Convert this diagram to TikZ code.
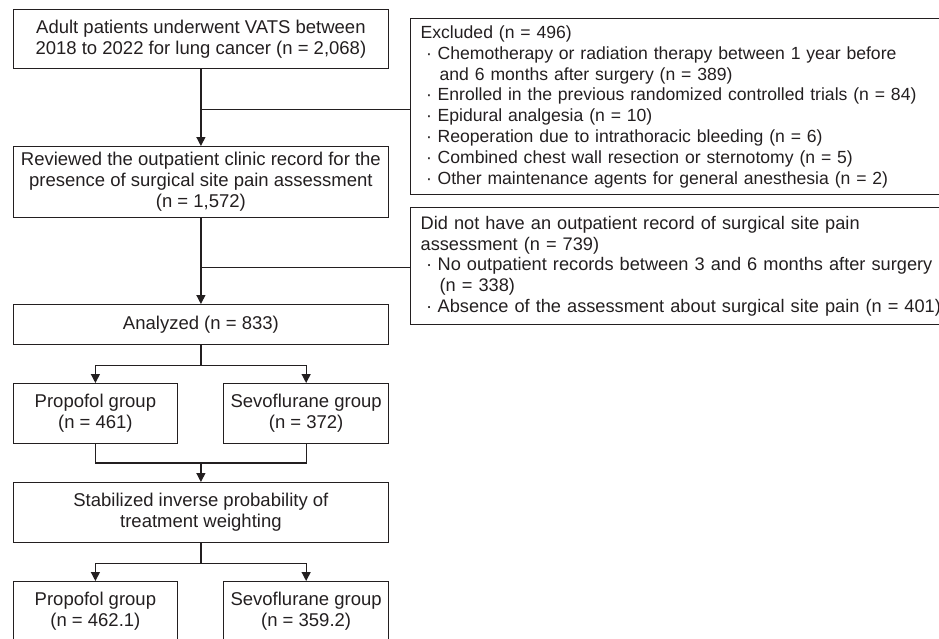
\documentclass[tikz,border=0pt]{standalone}
\usepackage{fontspec}
\setmainfont{Liberation Sans}
\usetikzlibrary{arrows.meta}
\definecolor{ink}{RGB}{35,31,32}
\newcommand{\bul}{\makebox[17pt][c]{·}}
\newcommand{\ind}{\hspace*{19pt}}
\begin{document}
\begin{tikzpicture}[x=1pt,y=-1pt,
  box/.style={draw=ink, line width=1.3pt, text=ink, anchor=north west, inner sep=0pt, align=center, font=\fontsize{18.5}{21}\selectfont},
  lbox/.style={box, align=left, text width=560pt, inner xsep=10pt, inner ysep=0pt, font=\fontsize{17.6}{20.8}\selectfont},
  lboxb/.style={lbox, font=\fontsize{18.2}{20.6}\selectfont},
  arr/.style={draw=ink, line width=1.3pt, -{Triangle[length=9pt,width=9pt]}},
  ln/.style={draw=ink, line width=1.3pt}]
\useasboundingbox (0,0) rectangle (939,638);
\clip (0,0) rectangle (939,638);

\node[box, minimum width=375.5pt, minimum height=59pt] (b1) at (12.5,9)
  {Adult patients underwent VATS between\\2018 to 2022 for lung cancer (n = 2,068)};
\node[box, minimum width=375.5pt, minimum height=71pt] (b2) at (12.5,146)
  {Reviewed the outpatient clinic record for the\\presence of surgical site pain assessment\\(n = 1,572)};
\node[box, minimum width=375.5pt, minimum height=40pt] (an) at (12.5,304)
  {Analyzed (n = 833)};
\node[box, minimum width=164.5pt, minimum height=60pt] (p1) at (12.5,383)
  {Propofol group\\(n = 461)};
\node[box, minimum width=165pt, minimum height=60pt] (s1) at (223,383)
  {Sevoflurane group\\(n = 372)};
\node[box, minimum width=375.5pt, minimum height=60pt] (st) at (12.5,482)
  {Stabilized inverse probability of\\treatment weighting};
\node[box, minimum width=164.5pt, minimum height=60pt] (p2) at (12.5,581)
  {Propofol group\\(n = 462.1)};
\node[box, minimum width=165pt, minimum height=60pt] (s2) at (223,581)
  {Sevoflurane group\\(n = 359.2)};

\node[lbox, minimum height=176pt] (ex) at (410,18)
  {Excluded (n = 496)\\
   \bul Chemotherapy or radiation therapy between 1 year before\\
   \ind and 6 months after surgery (n = 389)\\
   \bul Enrolled in the previous randomized controlled trials (n = 84)\\
   \bul Epidural analgesia (n = 10)\\
   \bul Reoperation due to intrathoracic bleeding (n = 6)\\
   \bul Combined chest wall resection or sternotomy (n = 5)\\
   \bul Other maintenance agents for general anesthesia (n = 2)};
\node[lboxb, minimum height=117pt] (ex2) at (410,207)
  {Did not have an outpatient record of surgical site pain\\
   assessment (n = 739)\\
   \bul No outpatient records between 3 and 6 months after surgery\\
   \ind (n = 338)\\
   \bul Absence of the assessment about surgical site pain (n = 401)};

% connectors
\draw[arr] (b1.south) -- (b2.north);
\path (b1.south) ++(0,40) coordinate (j1);
\draw[ln] (j1) -- (j1 -| ex.west);

\draw[arr] (b2.south) -- (an.north);
\path (b2.south) ++(0,49) coordinate (j2);
\draw[ln] (j2) -- (j2 -| ex2.west);

\path (an.south) ++(0,20) coordinate (j3);
\draw[ln] (an.south) -- (j3);
\draw[ln] (p1.north |- j3) -- (s1.north |- j3);
\draw[arr] (p1.north |- j3) -- (p1.north);
\draw[arr] (s1.north |- j3) -- (s1.north);

\path (st.north) ++(0,-19) coordinate (j4);
\draw[ln] (p1.south) -- (p1.south |- j4) -- (s1.south |- j4) -- (s1.south);
\draw[arr] (j4) -- (st.north);

\path (st.south) ++(0,20) coordinate (j5);
\draw[ln] (st.south) -- (j5);
\draw[ln] (p2.north |- j5) -- (s2.north |- j5);
\draw[arr] (p2.north |- j5) -- (p2.north);
\draw[arr] (s2.north |- j5) -- (s2.north);
\end{tikzpicture}
\end{document}
